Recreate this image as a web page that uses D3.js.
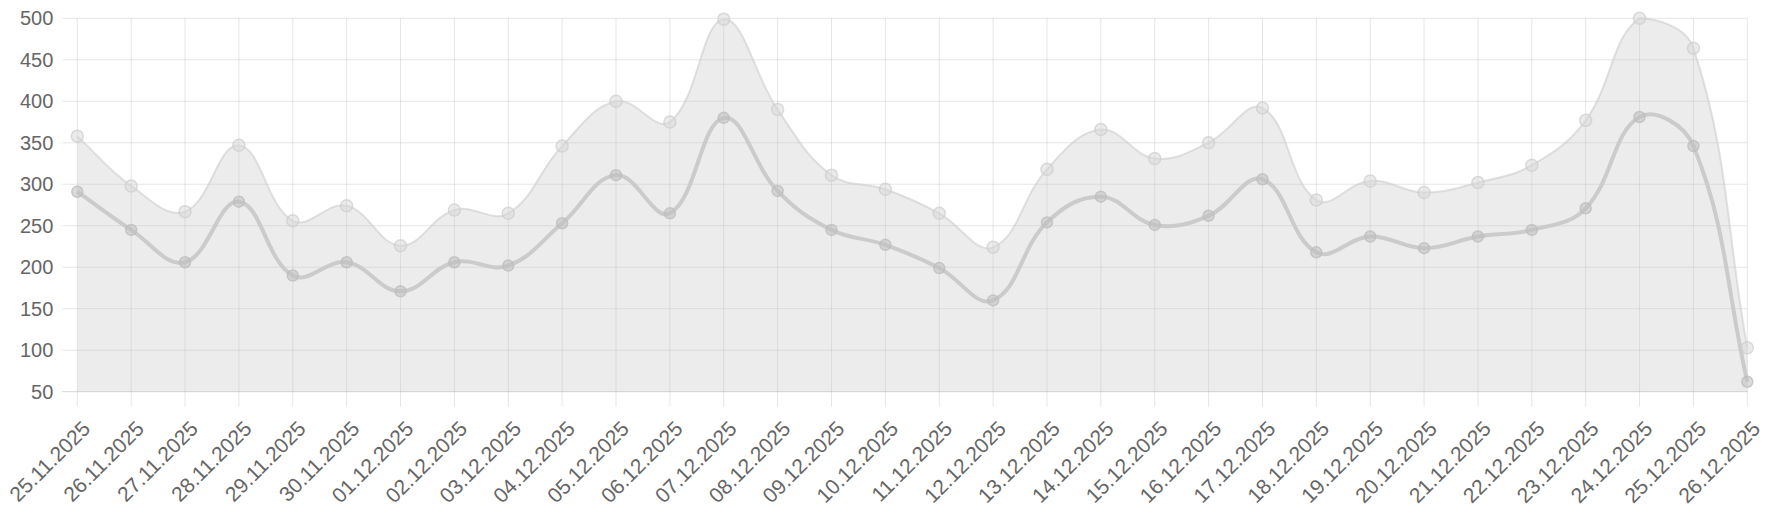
<!DOCTYPE html>
<html>
<head>
<meta charset="utf-8">
<script src="https://cdn.jsdelivr.net/npm/d3@7"></script>
<style>
  html, body { margin: 0; padding: 0; background: #fff; }
  svg { display: block; }
  text { font-family: "Liberation Sans", Arial, sans-serif; fill: #666; }
</style>
</head>
<body>
<svg id="chart" width="1770" height="513"></svg>
<script>
const categories = ["25.11.2025","26.11.2025","27.11.2025","28.11.2025","29.11.2025","30.11.2025",
  "01.12.2025","02.12.2025","03.12.2025","04.12.2025","05.12.2025","06.12.2025","07.12.2025",
  "08.12.2025","09.12.2025","10.12.2025","11.12.2025","12.12.2025","13.12.2025","14.12.2025",
  "15.12.2025","16.12.2025","17.12.2025","18.12.2025","19.12.2025","20.12.2025","21.12.2025",
  "22.12.2025","23.12.2025","24.12.2025","25.12.2025","26.12.2025"];
const upperValues = [358,298,267,347,256,274,226,269,265,346,400,375,499,390,311,294,265,224,318,366,
  331,350,392,281,304,290,302,323,377,500,464,103];
const lowerValues = [291,245,206,279,190,206,171,206,202,253,311,265,380,292,245,227,199,160,254,285,
  251,262,306,218,237,223,237,245,271,381,346,62];
const yTicks = [50,100,150,200,250,300,350,400,450,500];

const margin = {left: 77.3, top: 18.3, right: 1770 - 1747.3, bottom: 513 - 391.7};
const W = 1770 - margin.left - margin.right;
const H = 513 - margin.top - margin.bottom;
const tickLen = 15;

const svg = d3.select("#chart");
const g = svg.append("g").attr("transform", `translate(${margin.left},${margin.top})`);

const x = d3.scalePoint().domain(categories).range([0, W]);
const y = d3.scaleLinear().domain([50, 500]).range([H, 0]);

// Chart.js-like bezier spline (tension 0.4) with control points capped to chart area
function chartJsCurve(tension, x0, y0, x1, y1) {
  function Curve(context) { this._context = context; }
  Curve.prototype = {
    areaStart() { this._line = 0; },
    areaEnd() { this._line = NaN; },
    lineStart() { this._pts = []; },
    point(px, py) { this._pts.push([+px, +py]); },
    lineEnd() {
      const p = this._pts, c = this._context, n = p.length;
      if (n) {
        if (this._line) c.lineTo(p[0][0], p[0][1]); else c.moveTo(p[0][0], p[0][1]);
        const cps = p.map((cur, i) => {
          const prev = i > 0 ? p[i - 1] : cur;
          const next = i < n - 1 ? p[i + 1] : cur;
          const d01 = Math.hypot(cur[0] - prev[0], cur[1] - prev[1]);
          const d12 = Math.hypot(next[0] - cur[0], next[1] - cur[1]);
          let s01 = d01 / (d01 + d12), s12 = d12 / (d01 + d12);
          if (isNaN(s01)) s01 = 0;
          if (isNaN(s12)) s12 = 0;
          const fa = tension * s01, fb = tension * s12;
          const cap = (v, lo, hi) => Math.max(lo, Math.min(hi, v));
          return {
            prev: [cap(cur[0] - fa * (next[0] - prev[0]), x0, x1), cap(cur[1] - fa * (next[1] - prev[1]), y0, y1)],
            next: [cap(cur[0] + fb * (next[0] - prev[0]), x0, x1), cap(cur[1] + fb * (next[1] - prev[1]), y0, y1)]
          };
        });
        for (let i = 0; i < n - 1; i++) {
          c.bezierCurveTo(cps[i].next[0], cps[i].next[1], cps[i + 1].prev[0], cps[i + 1].prev[1], p[i + 1][0], p[i + 1][1]);
        }
      }
      if (this._line || (this._line !== 0 && n === 1)) c.closePath();
      this._line = 1 - this._line;
    }
  };
  return function(context) { return new Curve(context); };
}
const curve = chartJsCurve(0.4, 0, 0, W, H);

// grid: horizontal
g.append("g").selectAll("line").data(yTicks).join("line")
  .attr("x1", -tickLen).attr("x2", W)
  .attr("y1", d => y(d)).attr("y2", d => y(d))
  .attr("stroke", d => d === 50 ? "rgba(0,0,0,0.16)" : "rgba(0,0,0,0.1)")
  .attr("stroke-width", 1);
// grid: vertical
g.append("g").selectAll("line").data(categories).join("line")
  .attr("x1", d => x(d)).attr("x2", d => x(d))
  .attr("y1", 0).attr("y2", H + tickLen)
  .attr("stroke", "rgba(0,0,0,0.1)")
  .attr("stroke-width", 1);

// y labels
g.append("g").selectAll("text").data(yTicks).join("text")
  .attr("x", -24).attr("y", d => y(d))
  .attr("dy", "0.35em")
  .attr("text-anchor", "end")
  .style("font-size", "20px")
  .text(d => d);

// x labels
g.append("g").selectAll("text").data(categories).join("text")
  .attr("transform", d => `translate(${x(d) + 9},${H + 33}) rotate(-45)`)
  .attr("dy", "0.35em")
  .attr("text-anchor", "end")
  .style("font-size", "21px")
  .text(d => d);

// area of upper series
const area = d3.area()
  .x((d, i) => x(categories[i]))
  .y0(H)
  .y1(d => y(d))
  .curve(curve);
g.append("path").datum(upperValues)
  .attr("d", area)
  .attr("fill", "rgba(200,200,200,0.35)");

const line = d3.line()
  .x((d, i) => x(categories[i]))
  .y(d => y(d))
  .curve(curve);

g.append("path").datum(upperValues)
  .attr("d", line)
  .attr("fill", "none")
  .attr("stroke", "rgba(205,205,205,0.6)")
  .attr("stroke-width", 2);

g.append("path").datum(lowerValues)
  .attr("d", line)
  .attr("fill", "none")
  .attr("stroke", "rgba(200,200,200,0.9)")
  .attr("stroke-width", 4);

// points
g.append("g").selectAll("circle").data(upperValues).join("circle")
  .attr("cx", (d, i) => x(categories[i]))
  .attr("cy", d => y(d))
  .attr("r", 6)
  .attr("fill", "rgba(215,215,215,0.5)")
  .attr("stroke", "rgba(205,205,205,0.7)")
  .attr("stroke-width", 1.5);

g.append("g").selectAll("circle").data(lowerValues).join("circle")
  .attr("cx", (d, i) => x(categories[i]))
  .attr("cy", d => y(d))
  .attr("r", 5.5)
  .attr("fill", "rgba(192,192,192,0.55)")
  .attr("stroke", "rgba(190,190,190,0.8)")
  .attr("stroke-width", 1.5);
</script>
</body>
</html>
